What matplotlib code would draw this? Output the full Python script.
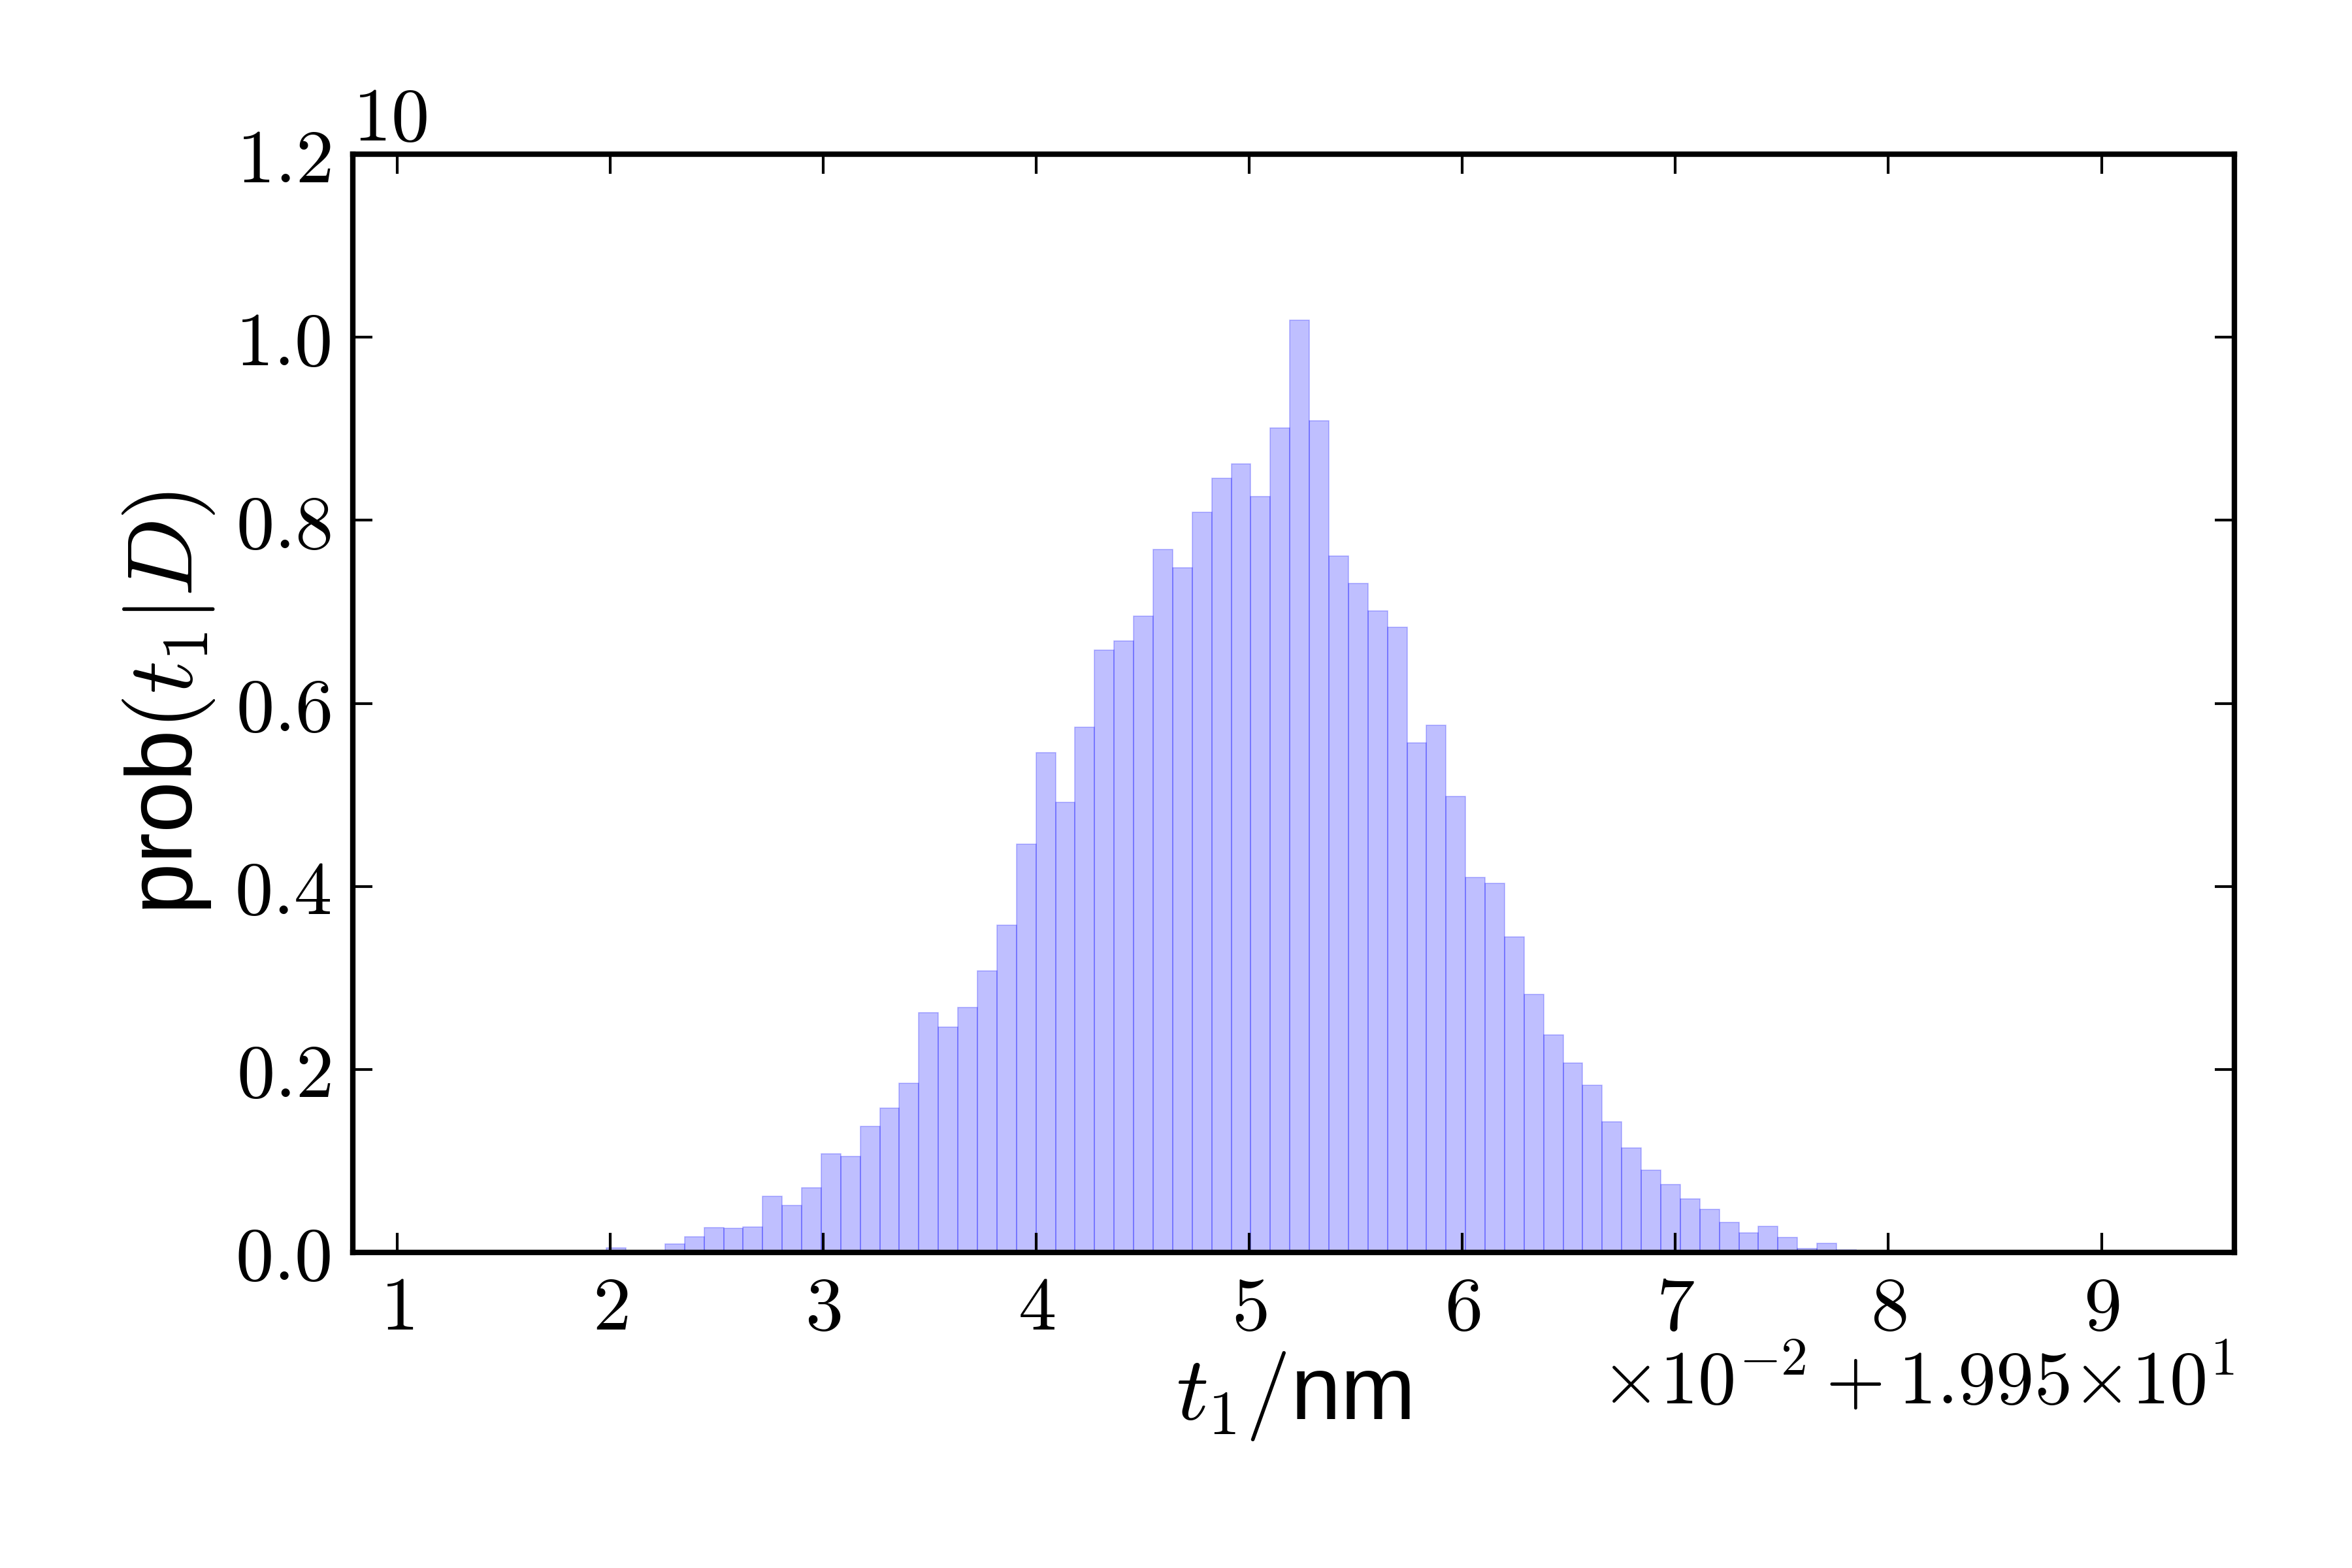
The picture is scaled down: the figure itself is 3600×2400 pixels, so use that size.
import numpy as np
import matplotlib
matplotlib.use("Agg")
import matplotlib.pyplot as plt
from matplotlib.ticker import FuncFormatter

# === Data (x in units of 1e-2 nm offset by 19.95 nm, y in units of 10) ===
BIN_START = 1.799
BIN_WIDTH = 0.09165
density = [
    0.0007, 0.0007, 0.005, 0.0007, 0.0021, 0.0093, 0.0171, 0.0271, 0.0264, 0.0278,
    0.0614, 0.0514, 0.071, 0.108, 0.105, 0.138, 0.158, 0.185, 0.262, 0.246,
    0.268, 0.308, 0.358, 0.446, 0.546, 0.492, 0.574, 0.658, 0.668, 0.695,
    0.768, 0.748, 0.809, 0.846, 0.862, 0.826, 0.901, 1.019, 0.909, 0.761,
    0.731, 0.701, 0.683, 0.557, 0.576, 0.498, 0.410, 0.403, 0.345, 0.282,
    0.238, 0.207, 0.183, 0.143, 0.114, 0.090, 0.0739, 0.0586, 0.0469, 0.0325,
    0.0217, 0.0289, 0.0167, 0.0043, 0.010, 0.0028, 0.0014,
]
x_ticks = [1, 2, 3, 4, 5, 6, 7, 8, 9]
y_ticks = [0.0, 0.2, 0.4, 0.6, 0.8, 1.0, 1.2]
x_offset_label = r"$\times10^{-2}+1.995{\times}10^{1}$"
y_offset_label = r"$10$"

plt.rcParams["mathtext.fontset"] = "cm"
plt.rcParams["font.family"] = ["Liberation Sans", "DejaVu Sans"]

edges = BIN_START + BIN_WIDTH * np.arange(len(density) + 1)

fig = plt.figure(figsize=(6, 4), dpi=600)
ax = fig.add_axes([0.15, 0.20125, 0.8, 0.7004])

ax.hist(edges[:-1], bins=edges, weights=density, color="b", alpha=0.25,
        edgecolor="b", linewidth=0.2)

ax.set_xlim(0.7917, 9.624)
ax.set_ylim(0.0, 1.2)
ax.set_xticks(x_ticks)
ax.set_yticks(y_ticks)
ax.xaxis.set_major_formatter(FuncFormatter(lambda v, p: r"$%d$" % round(v)))
ax.yaxis.set_major_formatter(FuncFormatter(lambda v, p: r"$%.1f$" % v))
ax.tick_params(direction="in", top=True, right=True, length=3.6, width=0.5,
               labelsize=14, pad=4)
for s in ax.spines.values():
    s.set_linewidth(1.0)

ax.set_xlabel(r"$t_1/$nm", fontsize=16.5, labelpad=0.8)
ax.set_ylabel(r"prob$(t_1|D)$", fontsize=17, labelpad=3.3)

# offset texts as in the original figure
fig.text(0.95, 1 - 2060 / 2400, x_offset_label, fontsize=14, ha="right", va="top")
fig.text(0.15, 1 - 215 / 2400, y_offset_label, fontsize=14, ha="left", va="baseline")

fig.savefig("out.png", dpi=600)
plt.close(fig)
